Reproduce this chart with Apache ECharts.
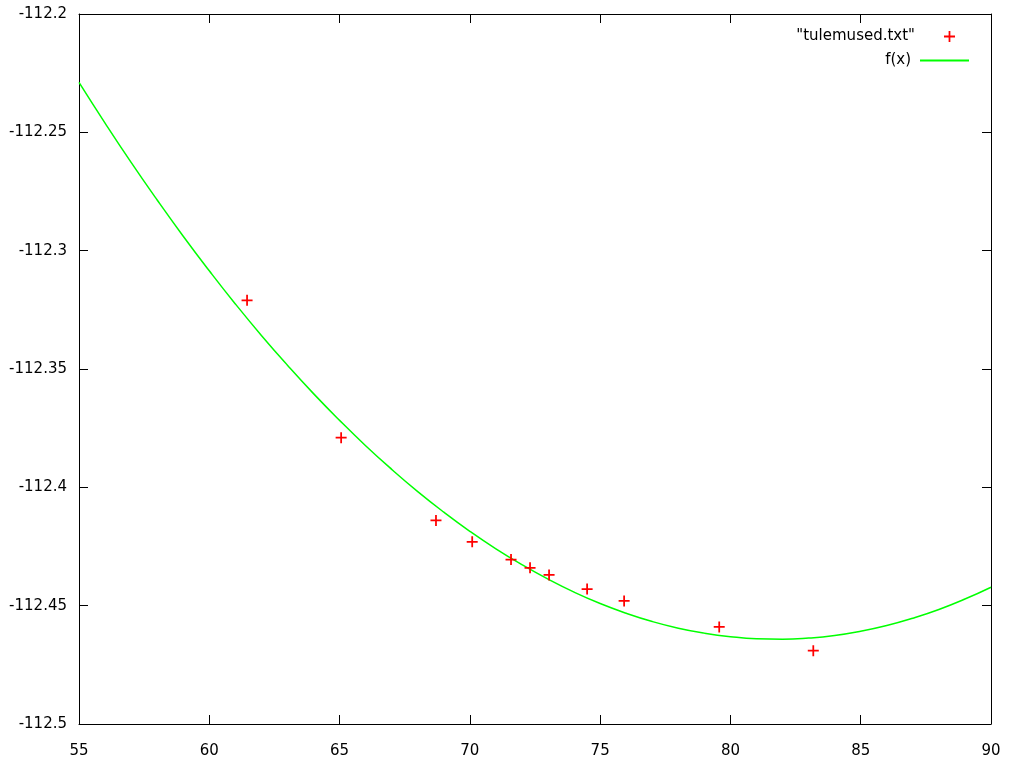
<!DOCTYPE html>
<html>
<head>
<meta charset="utf-8">
<script src="https://cdn.jsdelivr.net/npm/echarts@6/dist/echarts.min.js"></script>
<style>html,body{margin:0;padding:0;background:#fff}#c{width:1014px;height:765px}</style>
</head>
<body>
<div id="c"></div>
<script>
// data points
var dataX = [61.45, 65.06, 68.70, 70.09, 71.58, 72.31, 73.04, 74.50, 75.92, 79.57, 83.18];
var dataY = [-112.321, -112.379, -112.414, -112.423, -112.4305, -112.434, -112.437, -112.443, -112.448, -112.459, -112.469];
// fitted curve f(x)
var curveX = [55,56,57,58,59,60,61,62,63,64,65,66,67,68,69,70,71,72,73,74,75,76,77,78,79,80,81,82,83,84,85,86,87,88,89,90];
var curveY = [-112.2289,-112.2461,-112.2627,-112.2786,-112.2939,-112.3085,-112.3225,-112.3358,-112.3484,-112.3604,
  -112.3717,-112.3824,-112.3924,-112.4018,-112.4105,-112.4186,-112.4260,-112.4327,-112.4388,-112.4443,
  -112.4491,-112.4532,-112.4567,-112.4595,-112.4616,-112.4631,-112.4640,-112.4642,-112.4637,-112.4626,
  -112.4608,-112.4584,-112.4553,-112.4516,-112.4472,-112.4422];
var xTicks = [55, 60, 65, 70, 75, 80, 85, 90];
var yTicks = [-112.5, -112.45, -112.4, -112.35, -112.3, -112.25, -112.2];
var seriesNames = ['"tulemused.txt"', 'f(x)'];

var font = 'DejaVu Sans';
var plus = 'path://M4.2,0H5.8V4.2H10V5.8H5.8V10H4.2V5.8H0V4.2H4.2Z';
function pairs(xs, ys){ return xs.map(function(x,i){ return [x, ys[i]]; }); }
function fmt(v){ return String(+(+v).toFixed(3)); }

var xBase = {
  type: 'value', min: xTicks[0], max: xTicks[xTicks.length-1], interval: xTicks[1]-xTicks[0],
  axisLine: {show: true, onZero: false, lineStyle: {color: '#000', width: 1}},
  axisTick: {show: true, inside: true, length: 9, lineStyle: {color: '#000'}},
  splitLine: {show: false}
};
var yBase = {
  type: 'value', min: yTicks[0], max: yTicks[yTicks.length-1], interval: 0.05,
  axisLine: {show: true, onZero: false, lineStyle: {color: '#000', width: 1}},
  axisTick: {show: true, inside: true, length: 9, lineStyle: {color: '#000'}},
  splitLine: {show: false}
};

var option = {
  animation: false,
  backgroundColor: '#fff',
  grid: {left: 79, right: 23, top: 14, bottom: 41, containLabel: false},
  xAxis: [
    Object.assign({}, xBase, {position: 'bottom',
      axisLabel: {show: true, margin: 20, color: '#000', fontFamily: font, fontSize: 15, formatter: fmt}}),
    Object.assign({}, xBase, {position: 'top', axisLabel: {show: false}})
  ],
  yAxis: [
    Object.assign({}, yBase, {position: 'left',
      axisLabel: {show: true, margin: 12, color: '#000', fontFamily: font, fontSize: 15, formatter: fmt}}),
    Object.assign({}, yBase, {position: 'right', axisLabel: {show: false}})
  ],
  legend: [
    {data: [seriesNames[0]], orient: 'vertical', align: 'right', right: 54, top: 24,
     itemWidth: 11, itemHeight: 11,
     textStyle: {color: '#000', fontFamily: font, fontSize: 15, padding: [0, 24, 0, 0]}},
    {data: [{name: seriesNames[1], icon: 'rect'}], orient: 'vertical', align: 'right', right: 40, top: 48,
     itemWidth: 49, itemHeight: 2,
     textStyle: {color: '#000', fontFamily: font, fontSize: 15, padding: [0, 4, 0, 0]}}
  ],
  series: [
    {name: seriesNames[0], type: 'scatter', data: pairs(dataX, dataY),
     symbol: plus, symbolSize: 11, itemStyle: {color: '#ff0000', opacity: 1}, z: 3},
    {name: seriesNames[1], type: 'line', data: pairs(curveX, curveY),
     showSymbol: false, symbol: 'none', smooth: true,
     lineStyle: {color: '#00ff00', width: 1.5}, itemStyle: {color: '#00ff00'}, z: 2}
  ]
};
echarts.init(document.getElementById('c')).setOption(option);
</script>
</body>
</html>
